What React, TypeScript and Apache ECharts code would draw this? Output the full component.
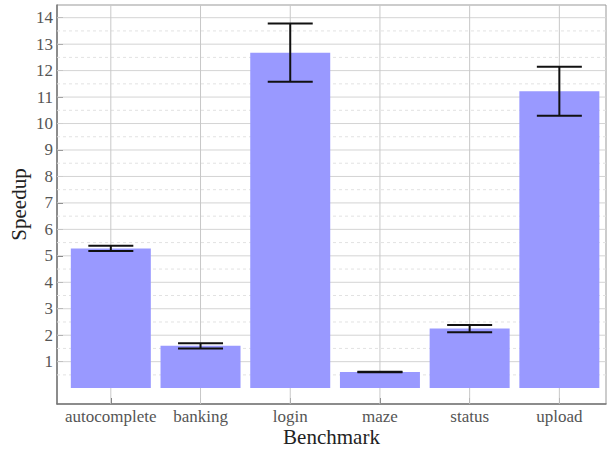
import React, { useEffect, useRef } from "react";
import * as echarts from "echarts";

// Benchmarks and measured speedups (mean ± error)
const benchmarks = ["autocomplete", "banking", "login", "maze", "status", "upload"];
const speedups = [5.28, 1.6, 12.68, 0.61, 2.25, 11.22];
const errors = [0.1, 0.1, 1.1, 0.01, 0.14, 0.93];

// Axis tick values and grid lines
const yTicks = [1, 2, 3, 4, 5, 6, 7, 8, 9, 10, 11, 12, 13, 14];
const yHalfLines = [0.5, 1.5, 2.5, 3.5, 4.5, 5.5, 6.5, 7.5, 8.5, 9.5, 10.5, 11.5, 12.5, 13.5];
const xPositions = [0, 1, 2, 3, 4, 5];

const X_MIN = -0.6;
const X_MAX = 5.52;
const Y_MIN = -0.6;
const Y_MAX = 14.48;

const FONT = "'Liberation Serif', 'Times New Roman', serif";
const BAR_COLOR = "#9999ff";

export default function App() {
  const ref = useRef<HTMLDivElement>(null);

  useEffect(() => {
    if (!ref.current) return;
    const chart = echarts.init(ref.current, undefined, { renderer: "svg" });

    const option: any = {
      animation: false,
      backgroundColor: "#ffffff",
      grid: {
        left: 57,
        right: 2,
        top: 5,
        height: 399,
        containLabel: false,
        outerBoundsMode: "none",
        show: true,
        borderColor: "#999",
        borderWidth: 1,
        backgroundColor: "transparent",
      },
      xAxis: {
        type: "value",
        min: X_MIN,
        max: X_MAX,
        name: "Benchmark",
        nameLocation: "middle",
        nameGap: 22,
        nameMoveOverlap: false,
        nameTextStyle: { fontFamily: FONT, fontSize: 21, color: "#222" },
        axisLine: { show: true, onZero: false, lineStyle: { color: "#777", width: 1.5 } },
        axisTick: {
          show: true,
          inside: true,
          length: 6,
          customValues: xPositions,
          lineStyle: { color: "#666", width: 1 },
        },
        axisLabel: {
          show: true,
          margin: 4,
          customValues: xPositions,
          fontFamily: FONT,
          fontSize: 17,
          color: "#555",
          formatter: (v: number) => benchmarks[Math.round(v)] ?? "",
        },
        splitLine: { show: false },
      },
      yAxis: {
        type: "value",
        min: Y_MIN,
        max: Y_MAX,
        name: "Speedup",
        nameLocation: "middle",
        nameGap: 28,
        nameMoveOverlap: false,
        nameTextStyle: { fontFamily: FONT, fontSize: 21, color: "#222" },
        axisLine: { show: true, onZero: false, lineStyle: { color: "#777", width: 1.5 } },
        axisTick: {
          show: true,
          inside: true,
          length: 6,
          customValues: yTicks,
          lineStyle: { color: "#666", width: 1 },
        },
        axisLabel: {
          show: true,
          margin: 4,
          customValues: yTicks,
          fontFamily: FONT,
          fontSize: 17,
          color: "#555",
        },
        splitLine: { show: false },
      },
      series: [
        // horizontal grid lines at integer values
        {
          type: "custom",
          z: 1,
          silent: true,
          data: yTicks.map((v) => [v]),
          renderItem: (params: any, api: any) => {
            const v = api.value(0);
            const p1 = api.coord([X_MIN, v]);
            const p2 = api.coord([X_MAX, v]);
            return {
              type: "line",
              shape: { x1: p1[0], y1: p1[1], x2: p2[0], y2: p2[1] },
              style: { stroke: "#d4d4d4", lineWidth: 1 },
            };
          },
          encode: { y: 0 },
        },
        // dashed half-unit grid lines
        {
          type: "custom",
          z: 1,
          silent: true,
          data: yHalfLines.map((v) => [v]),
          renderItem: (params: any, api: any) => {
            const v = api.value(0);
            const p1 = api.coord([X_MIN, v]);
            const p2 = api.coord([X_MAX, v]);
            return {
              type: "line",
              shape: { x1: p1[0], y1: p1[1], x2: p2[0], y2: p2[1] },
              style: { stroke: "#e2e2e2", lineWidth: 1, lineDash: [3, 3] },
            };
          },
          encode: { y: 0 },
        },
        // vertical grid lines at each benchmark
        {
          type: "custom",
          z: 1,
          silent: true,
          data: xPositions.map((v) => [v]),
          renderItem: (params: any, api: any) => {
            const v = api.value(0);
            const p1 = api.coord([v, Y_MIN]);
            const p2 = api.coord([v, Y_MAX]);
            return {
              type: "line",
              shape: { x1: p1[0], y1: p1[1], x2: p2[0], y2: p2[1] },
              style: { stroke: "#c8c8c8", lineWidth: 1 },
            };
          },
          encode: { x: 0 },
        },
        // bars
        {
          type: "custom",
          z: 2,
          data: speedups.map((s, i) => [i, s]),
          renderItem: (params: any, api: any) => {
            const x = api.value(0);
            const y = api.value(1);
            const top = api.coord([x, y]);
            const base = api.coord([x, 0]);
            const w = 80;
            return {
              type: "rect",
              shape: { x: top[0] - w / 2, y: top[1], width: w, height: base[1] - top[1] },
              style: { fill: BAR_COLOR },
            };
          },
          encode: { x: 0, y: 1 },
        },
        // error bars
        {
          type: "custom",
          z: 3,
          data: speedups.map((s, i) => [i, s - errors[i], s + errors[i]]),
          renderItem: (params: any, api: any) => {
            const x = api.value(0);
            const lo = api.coord([x, api.value(1)]);
            const hi = api.coord([x, api.value(2)]);
            const hw = 22.5;
            const style = { stroke: "#111", lineWidth: 2 };
            return {
              type: "group",
              children: [
                { type: "line", shape: { x1: lo[0], y1: lo[1], x2: hi[0], y2: hi[1] }, style },
                { type: "line", shape: { x1: lo[0] - hw, y1: lo[1], x2: lo[0] + hw, y2: lo[1] }, style },
                { type: "line", shape: { x1: hi[0] - hw, y1: hi[1], x2: hi[0] + hw, y2: hi[1] }, style },
              ],
            };
          },
          encode: { x: 0, y: [1, 2] },
        },
      ],
    };

    chart.setOption(option);
    return () => chart.dispose();
  }, []);

  return (
    <div
      ref={ref}
      style={{ position: "fixed", left: 0, top: 0, width: 608, height: 451, background: "#fff" }}
    />
  );
}
